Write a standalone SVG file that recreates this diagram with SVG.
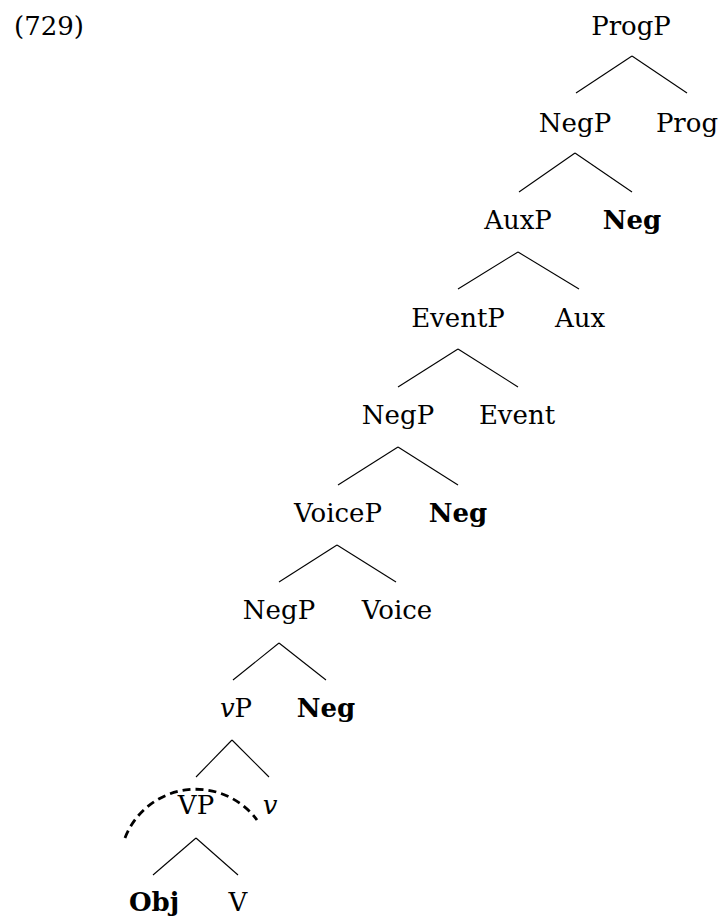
<svg xmlns="http://www.w3.org/2000/svg" width="722" height="920" viewBox="0 0 722 920">
<style>
text{font-family:"DejaVu Serif","Liberation Serif",serif;font-size:26px;fill:#000;text-anchor:middle}
.b{font-weight:bold}
.i{font-style:italic}
#edges line{stroke:#000;stroke-width:1.1}
</style>
<rect width="722" height="920" fill="#fff"/>
<text x="14" y="35" style="text-anchor:start">(729)</text>
<g id="edges">
<line x1="632" y1="56" x2="576" y2="93"/><line x1="632" y1="56" x2="687" y2="93"/>
<line x1="575" y1="153" x2="519" y2="192"/><line x1="575" y1="153" x2="632" y2="192"/>
<line x1="518" y1="252" x2="458" y2="289"/><line x1="518" y1="252" x2="579" y2="289"/>
<line x1="458" y1="349" x2="398" y2="387"/><line x1="458" y1="349" x2="518" y2="387"/>
<line x1="398" y1="447" x2="338" y2="485"/><line x1="398" y1="447" x2="458" y2="485"/>
<line x1="337" y1="545" x2="279" y2="582"/><line x1="337" y1="545" x2="396" y2="582"/>
<line x1="279" y1="643" x2="233" y2="680"/><line x1="279" y1="643" x2="326" y2="680"/>
<line x1="232" y1="740" x2="196" y2="777"/><line x1="232" y1="740" x2="269" y2="777"/>
<line x1="196" y1="838" x2="153" y2="875"/><line x1="196" y1="838" x2="238" y2="875"/>
</g>
<g id="ProgP"><text x="631" y="35">ProgP</text></g>
<g id="NegP1"><text x="575" y="132">NegP</text></g>
<g id="Prog"><text x="687" y="132">Prog</text></g>
<g id="AuxP"><text x="518" y="229">AuxP</text></g>
<g id="Neg1"><text class="b" x="632" y="229">Neg</text></g>
<g id="EventP"><text x="458" y="327">EventP</text></g>
<g id="Aux"><text x="580" y="327">Aux</text></g>
<g id="NegP2"><text x="398" y="424">NegP</text></g>
<g id="Event"><text x="517" y="424">Event</text></g>
<g id="VoiceP"><text x="338" y="522">VoiceP</text></g>
<g id="Neg2"><text class="b" x="458" y="522">Neg</text></g>
<g id="NegP3"><text x="279" y="619">NegP</text></g>
<g id="Voice"><text x="397" y="619">Voice</text></g>
<g id="vP"><text x="236" y="717"><tspan class="i">v</tspan>P</text></g>
<g id="Neg3"><text class="b" x="326" y="717">Neg</text></g>
<g id="VP"><text x="196" y="814">VP</text></g>
<g id="v"><text class="i" x="270" y="814">v</text></g>
<g id="Obj"><text class="b" x="154" y="911">Obj</text></g>
<g id="V"><text x="238" y="911">V</text></g>
<g id="movement"><path d="M125,838 A76,76 0 0,1 257,820" fill="none" stroke="#000" stroke-width="2.8" stroke-dasharray="8 5"/></g>
</svg>
